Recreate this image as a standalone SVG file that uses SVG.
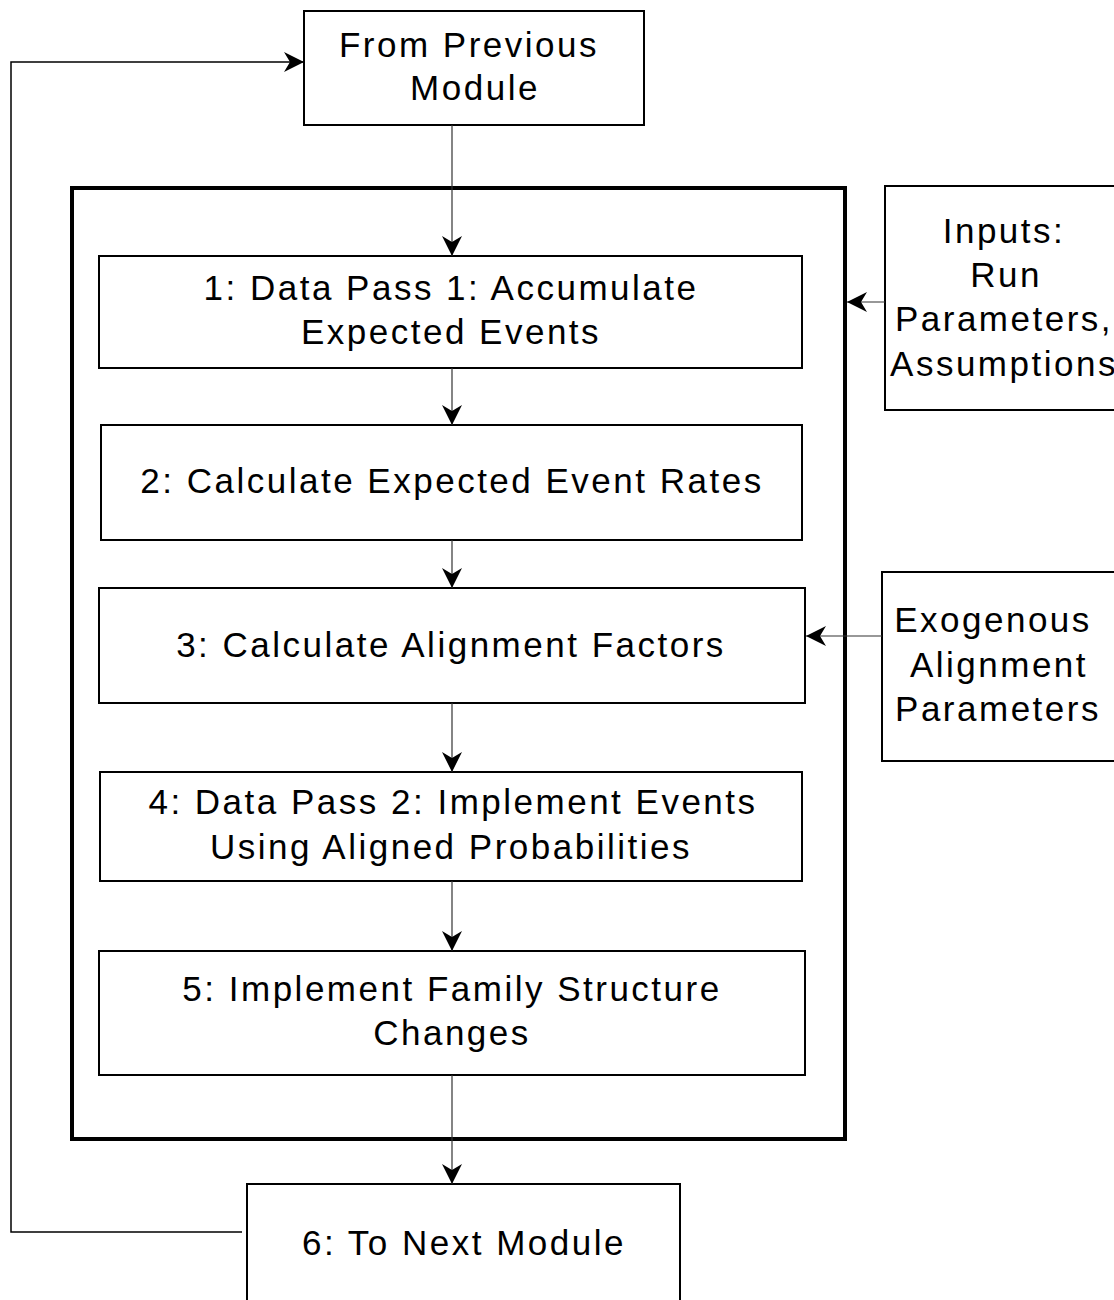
<svg xmlns="http://www.w3.org/2000/svg" width="1114" height="1300" viewBox="0 0 1114 1300">
<defs>
<style>
.box{fill:#fff;stroke:#000;stroke-width:2}
.outer{fill:none;stroke:#000;stroke-width:4}
.t{font-family:"Liberation Sans",Arial,sans-serif;font-size:35px;letter-spacing:2.5px;fill:#000;text-anchor:middle}
.c{fill:none;stroke:#333;stroke-width:1.2}
.loop{fill:none;stroke:#000;stroke-width:1.5}
</style>
<marker id="ah" viewBox="0 0 20 20" refX="20" refY="10" markerWidth="20" markerHeight="20" markerUnits="userSpaceOnUse" orient="auto">
<path d="M0,0 L20,10 L0,20 L6,10 Z" fill="#000"/>
</marker>
</defs>
<rect width="1114" height="1300" fill="#fff"/>
<g id="outer-frame"><rect class="outer" x="72" y="188" width="773" height="951"/></g>
<g id="from-previous"><rect class="box" x="304" y="11" width="340" height="114"/>
<text class="t" x="469" y="57">From Previous</text><text class="t" x="475" y="100">Module</text></g>
<g id="step1"><rect class="box" x="99" y="256" width="703" height="112"/>
<text class="t" x="451" y="300">1: Data Pass 1: Accumulate</text><text class="t" x="451" y="344">Expected Events</text></g>
<g id="step2"><rect class="box" x="101" y="425" width="701" height="115"/>
<text class="t" x="452" y="493">2: Calculate Expected Event Rates</text></g>
<g id="step3"><rect class="box" x="99" y="588" width="706" height="115"/>
<text class="t" x="451" y="657">3: Calculate Alignment Factors</text></g>
<g id="step4"><rect class="box" x="100" y="772" width="702" height="109"/>
<text class="t" x="453" y="814">4: Data Pass 2: Implement Events</text><text class="t" x="451" y="859">Using Aligned Probabilities</text></g>
<g id="step5"><rect class="box" x="99" y="951" width="706" height="124"/>
<text class="t" x="452" y="1001">5: Implement Family Structure</text><text class="t" x="452" y="1045">Changes</text></g>
<g id="step6"><rect class="box" x="247" y="1184" width="433" height="130"/>
<text class="t" x="464" y="1255">6: To Next Module</text></g>
<g id="inputs"><rect class="box" x="885" y="186" width="240" height="224"/>
<text class="t" x="1004" y="243">Inputs:</text><text class="t" x="1006" y="287">Run</text><text class="t" x="1004" y="331">Parameters,</text><text class="t" x="1004" y="376">Assumptions</text></g>
<g id="exogenous"><rect class="box" x="882" y="572" width="240" height="189"/>
<text class="t" x="993" y="632">Exogenous</text><text class="t" x="999" y="677">Alignment</text><text class="t" x="998" y="721">Parameters</text></g>
<g id="connectors">
<path class="c" d="M452,125 V256" marker-end="url(#ah)"/>
<path class="c" d="M452,368 V425" marker-end="url(#ah)"/>
<path class="c" d="M452,540 V588" marker-end="url(#ah)"/>
<path class="c" d="M452,703 V772" marker-end="url(#ah)"/>
<path class="c" d="M452,881 V951" marker-end="url(#ah)"/>
<path class="c" d="M452,1075 V1184" marker-end="url(#ah)"/>
<path class="c" d="M885,302 H847" marker-end="url(#ah)"/>
<path class="c" d="M882,636 H806" marker-end="url(#ah)"/>
<path class="loop" d="M242,1232 H11 V62 H304" marker-end="url(#ah)"/>
</g>
</svg>
